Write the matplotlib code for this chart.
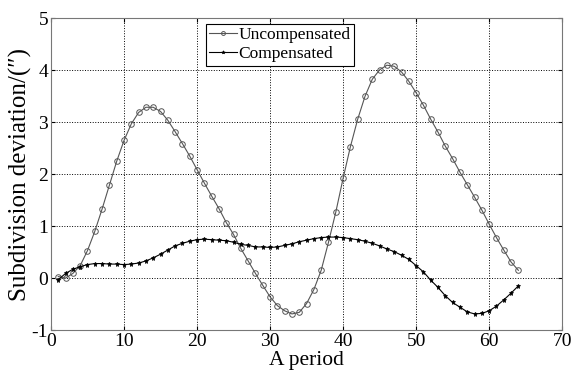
import numpy as np
import matplotlib
matplotlib.use("Agg")
import matplotlib.pyplot as plt

plt.rcParams['font.family'] = ['Liberation Serif', 'DejaVu Serif']
plt.rcParams['axes.unicode_minus'] = False

period = list(range(1, 65))
uncompensated = [0.03, 0.0, 0.09, 0.24, 0.53, 0.90, 1.33, 1.79, 2.25, 2.65,
                 2.97, 3.19, 3.29, 3.29, 3.21, 3.04, 2.82, 2.59, 2.35, 2.09,
                 1.83, 1.58, 1.34, 1.07, 0.84, 0.57, 0.33, 0.09, -0.14, -0.36,
                 -0.53, -0.63, -0.69, -0.66, -0.49, -0.22, 0.15, 0.69, 1.27, 1.92,
                 2.53, 3.06, 3.50, 3.83, 4.01, 4.10, 4.08, 3.97, 3.79, 3.57,
                 3.33, 3.06, 2.81, 2.54, 2.30, 2.04, 1.80, 1.56, 1.31, 1.04,
                 0.78, 0.54, 0.31, 0.15]
compensated = [-0.03, 0.09, 0.17, 0.22, 0.26, 0.28, 0.28, 0.27, 0.27, 0.26,
               0.27, 0.29, 0.33, 0.39, 0.46, 0.54, 0.62, 0.67, 0.71, 0.74,
               0.75, 0.74, 0.73, 0.72, 0.69, 0.65, 0.63, 0.60, 0.60, 0.59,
               0.60, 0.63, 0.66, 0.70, 0.73, 0.76, 0.78, 0.79, 0.79, 0.78,
               0.76, 0.74, 0.71, 0.67, 0.62, 0.56, 0.51, 0.44, 0.36, 0.24,
               0.12, -0.04, -0.18, -0.34, -0.47, -0.56, -0.65, -0.69, -0.68, -0.63,
               -0.54, -0.42, -0.29, -0.15]

fig = plt.figure(figsize=(5.76, 3.74), dpi=100)
ax = fig.add_axes([0.0885, 0.1176, 0.8875, 0.833])

ax.plot(period, uncompensated, color='#555555', lw=0.8, marker='o', markersize=4,
        markerfacecolor='none', markeredgecolor='#555555', markeredgewidth=0.7,
        label='Uncompensated')
ax.plot(period, compensated, color='black', lw=0.8, marker='*', markersize=3.6,
        markeredgewidth=0.5, label='Compensated')

ax.set_xlim(0, 70)
ax.set_ylim(-1, 5)
ax.set_xticks(range(0, 71, 10))
ax.set_yticks(range(-1, 6))
ax.grid(True, color='black', linestyle=':', linewidth=0.7)
ax.tick_params(direction='in', labelsize=14, top=True, right=True, length=3, pad=2)
for sp in ax.spines.values():
    sp.set_color('#777777')

ax.set_xlabel('A period', fontsize=15.5, labelpad=1)
ax.set_ylabel('Subdivision deviation/(″)', fontsize=18, labelpad=0)

leg = ax.legend(loc='upper center', bbox_to_anchor=(0.448, 1.0), fontsize=12.5,
                frameon=True, fancybox=False, framealpha=1, edgecolor='black',
                borderaxespad=0.3, handlelength=1.6, handletextpad=0.1,
                borderpad=0.2, labelspacing=0.15, markerscale=0.7)
leg.get_frame().set_linewidth(0.8)

fig.savefig('out.png', dpi=100)
